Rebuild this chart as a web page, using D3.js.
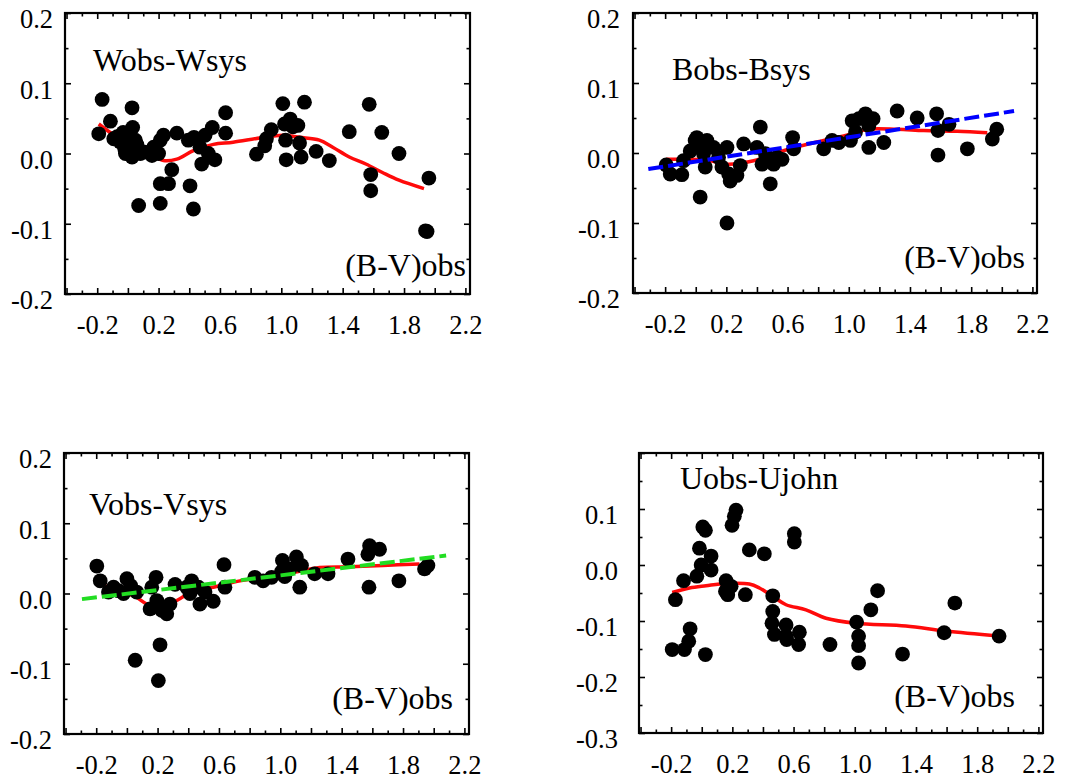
<!DOCTYPE html>
<html>
<head>
<meta charset="utf-8">
<script src="https://cdn.jsdelivr.net/npm/d3@7"></script>
<style>
  html, body { margin: 0; padding: 0; background: #fff; }
  svg { display: block; }
  text { font-family: "Liberation Serif", "Times New Roman", Times, serif; fill: #000; }
</style>
</head>
<body>
<svg id="chart" width="1082" height="781"></svg>
<script>
// Shared x-axis tick labels, (B-V)obs
const bvTickLabels = [-0.2, 0.2, 0.6, 1.0, 1.4, 1.8, 2.2];

// W: Wobs - Wsys residuals and smoothed trend
const wX = [-0.19, -0.168, -0.114, -0.092, -0.049, -0.031, -0.016, 0.005, 0.027, 0.031, 0.027, 0.049, 0.07, 0.081,
  -0.07, 0.0, 0.06, -0.02, 0.11,
  0.157, 0.168, 0.2, 0.211, 0.232, 0.211, 0.265, 0.286, 0.211, 0.319, 0.394, 0.405, 0.427, 0.431, 0.47, 0.481,
  0.503, 0.524, 0.55, 0.567, 0.637, 0.637, 0.838, 0.892, 0.903, 0.935, 1.01, 1.021, 1.028, 1.032, 1.058, 1.075,
  1.108, 1.119, 1.129, 1.151, 1.227, 1.313, 1.443, 1.573, 1.583, 1.583, 1.655, 1.767, 1.962, 1.94, 1.95];
const wY = [0.028, 0.077, 0.046, 0.021, 0.016, 0.030, 0.0, 0.009, 0.065, 0.037, -0.005, 0.019, -0.074, 0.0,
  0.024, 0.026, 0.012, 0.006, 0.002,
  -0.003, 0.009, 0.0, 0.019, 0.026, -0.043, -0.043, -0.023, -0.071, 0.029, 0.019, -0.046, -0.079, 0.023, 0.009, -0.015,
  0.026, 0.0, 0.037, -0.009, 0.058, 0.029, -0.001, 0.011, 0.021, 0.034, 0.071, 0.042, 0.019, -0.009, 0.049, 0.038,
  0.04, 0.015, -0.005, 0.073, 0.003, -0.01, 0.031, 0.07, -0.03, -0.053, 0.03, 0.0, -0.035, -0.11, -0.111];
const wTrendX = [-0.19, -0.09, 0.04, 0.146, 0.232, 0.319, 0.427, 0.557, 0.686, 0.859, 1.01, 1.119, 1.248, 1.335, 1.443, 1.551, 1.659, 1.767, 1.93];
const wTrendY = [0.042, 0.026, 0.009, -0.001, -0.01, -0.008, 0.004, 0.013, 0.016, 0.022, 0.026, 0.023, 0.019, 0.009, -0.005, -0.015, -0.027, -0.038, -0.05];

// B: Bobs - Bsys residuals, smoothed trend and linear fit
const bX = [-0.193, -0.167, -0.091, -0.08, -0.036, -0.004, 0.007, 0.029, 0.051, 0.062, 0.073, 0.029, 0.116, 0.149,
  0.171, 0.204, 0.215, 0.225, 0.269, 0.291, 0.204, 0.313, 0.40, 0.422, 0.433, 0.455, 0.487, 0.509, 0.531, 0.564,
  0.633, 0.64, 0.836, 0.891, 0.935, 1.011, 1.022, 1.044, 1.066, 1.109, 1.131, 1.131, 1.159, 1.229, 1.316, 1.447,
  1.574, 1.583, 1.583, 1.655, 1.775, 1.938, 1.967];
const bY = [-0.017, -0.030, -0.031, -0.011, 0.003, 0.018, 0.022, 0.013, -0.001, -0.020, 0.018, -0.063, 0.008, -0.006,
  -0.02, 0.008, -0.03, -0.040, -0.032, -0.018, -0.100, 0.013, 0.008, 0.037, -0.016, -0.001, -0.044, -0.016, -0.006, -0.009,
  0.022, 0.006, 0.006, 0.018, 0.015, 0.018, 0.046, 0.03, 0.049, 0.056, 0.039, 0.008, 0.049, 0.015, 0.060, 0.05,
  0.056, 0.032, -0.003, 0.041, 0.006, 0.02, 0.034];
const bTrendX = [-0.193, -0.1, 0.073, 0.204, 0.378, 0.509, 0.684, 0.836, 1.011, 1.12, 1.316, 1.491, 1.709, 1.905];
const bTrendY = [-0.009, -0.009, -0.01, -0.016, -0.011, -0.001, 0.01, 0.018, 0.027, 0.034, 0.034, 0.032, 0.031, 0.029];
const bFitX = [-0.31, 2.08];
const bFitY = [-0.023, 0.060];

// V: Vobs - Vsys residuals, smoothed trend and linear fit
const vX = [-0.196, -0.174, -0.12, -0.087, -0.055, -0.022, 0.0, 0.025, 0.054, 0.064, 0.151, 0.162, 0.19, 0.195,
  0.216, 0.205, 0.227, 0.26, 0.281, 0.314, 0.39, 0.411, 0.422, 0.466, 0.476, 0.509, 0.563, 0.633, 0.639, 0.834,
  0.888, 0.943, 1.008, 1.014, 1.029, 1.062, 1.105, 1.127, 1.138, 1.224, 1.311, 1.441, 1.571, 1.582, 1.578, 1.647,
  1.773, 1.94, 1.962];
const vY = [0.039, 0.018, 0.002, 0.009, 0.004, 0.0, 0.021, 0.011, -0.095, 0.002, -0.022, 0.009, 0.023, -0.01,
  -0.073, -0.124, -0.024, -0.029, -0.015, 0.013, 0.009, 0.0, 0.018, 0.009, -0.015, 0.002, -0.011, 0.041, 0.009, 0.023,
  0.018, 0.023, 0.031, 0.047, 0.024, 0.035, 0.052, 0.009, 0.04, 0.028, 0.028, 0.049, 0.056, 0.068, 0.009, 0.063,
  0.018, 0.035, 0.04];
const vTrendX = [-0.174, -0.109, 0.043, 0.13, 0.216, 0.325, 0.433, 0.563, 0.737, 0.91, 1.083, 1.257, 1.452, 1.669, 1.907];
const vTrendY = [0.023, 0.004, -0.003, -0.015, -0.019, -0.01, 0.004, 0.009, 0.018, 0.024, 0.03, 0.037, 0.038, 0.04, 0.042];
const vFitX = [-0.293, 2.081];
const vFitY = [-0.008, 0.054];

// U: Uobs - Ujohn residuals and smoothed trend
const uX = [-0.193, -0.172, -0.119, -0.113, -0.085, -0.076, -0.032, -0.015, -0.004, 0.007, 0.024, 0.024, 0.061, 0.061,
  0.159, 0.155, 0.17, 0.192, 0.198, 0.213, 0.224, 0.285, 0.311, 0.409, 0.464, 0.464, 0.459, 0.475, 0.551, 0.551,
  0.555, 0.605, 0.605, 0.638, 0.633, 0.838, 1.012, 1.025, 1.025, 1.025, 1.105, 1.149, 1.312, 1.584, 1.654, 1.943];
const uY = [-0.151, -0.062, -0.028, -0.151, -0.136, -0.114, -0.020, 0.030, 0.0, 0.068, 0.062, -0.160, 0.016, -0.009,
  -0.028, -0.047, -0.053, -0.038, 0.071, 0.087, 0.098, -0.053, 0.027, 0.020, -0.055, -0.083, -0.104, -0.124, -0.107, -0.127,
  -0.133, 0.056, 0.041, -0.12, -0.142, -0.142, -0.102, -0.127, -0.144, -0.175, -0.080, -0.046, -0.159, -0.121, -0.068, -0.127];
const uTrendX = [-0.193, -0.08, 0.028, 0.159, 0.311, 0.377, 0.464, 0.551, 0.681, 0.812, 1.008, 1.334, 1.595, 1.943];
const uTrendY = [-0.049, -0.041, -0.037, -0.033, -0.034, -0.041, -0.056, -0.071, -0.08, -0.095, -0.104, -0.109, -0.118, -0.127];

const panels = [
  { title: "Wobs-Wsys", x: wX, y: wY, tx: wTrendX, ty: wTrendY,
    box: { l: 65, t: 13, r: 470, b: 294 }, yDomain: [-0.2, 0.2], yLabels: [-0.2, -0.1, 0.0, 0.1, 0.2], labelGap: 12,
    titleAt: [93, 71], xNameAt: [466, 276] },
  { title: "Bobs-Bsys", x: bX, y: bY, tx: bTrendX, ty: bTrendY, fx: bFitX, fy: bFitY, fitColor: "#0000ff",
    box: { l: 633, t: 13, r: 1037, b: 293 }, yDomain: [-0.2, 0.2], yLabels: [-0.2, -0.1, 0.0, 0.1, 0.2], labelGap: 13,
    titleAt: [672, 80], xNameAt: [1025, 268] },
  { title: "Vobs-Vsys", x: vX, y: vY, tx: vTrendX, ty: vTrendY, fx: vFitX, fy: vFitY, fitColor: "#22dd22",
    box: { l: 64, t: 453, r: 469, b: 734 }, yDomain: [-0.2, 0.2], yLabels: [-0.2, -0.1, 0.0, 0.1, 0.2], labelGap: 12,
    titleAt: [89, 515], xNameAt: [453, 709] },
  { title: "Uobs-Ujohn", x: uX, y: uY, tx: uTrendX, ty: uTrendY,
    box: { l: 639, t: 453, r: 1043, b: 733 }, yDomain: [-0.3, 0.2], yLabels: [-0.3, -0.2, -0.1, 0.0, 0.1], labelGap: 21,
    titleAt: [680, 489], xNameAt: [1015, 707] }
];

const svg = d3.select("#chart");
const fmt = v => v.toFixed(1);
const xDomain = [-0.41, 2.23];
const tickFont = "26.5px";
const nameFont = "32px";

// tick positions: x majors every 0.2, minors between; y majors every 0.1, minors between
const xMajor = d3.range(-4, 23, 2).map(i => i / 10);
const xMinor = d3.range(-3, 23, 2).map(i => i / 10);

panels.forEach(p => {
  const { l, t, r, b } = p.box;
  const w = r - l, h = b - t;
  const g = svg.append("g").attr("transform", `translate(${l},${t})`);
  const x = d3.scaleLinear().domain(xDomain).range([0, w]);
  const y = d3.scaleLinear().domain(p.yDomain).range([h, 0]);

  const yLo = Math.round(p.yDomain[0] * 10), yHi = Math.round(p.yDomain[1] * 10);
  const yMajor = d3.range(yLo, yHi + 1).map(i => i / 10);
  const yMinor = d3.range(yLo, yHi).map(i => i / 10 + 0.05);

  // inward tick marks on all four sides
  const tickSets = [
    [d3.axisBottom(x), `translate(0,${h})`, xMajor, xMinor],
    [d3.axisTop(x), null, xMajor, xMinor],
    [d3.axisLeft(y), null, yMajor, yMinor],
    [d3.axisRight(y), `translate(${w},0)`, yMajor, yMinor]
  ];
  tickSets.forEach(([ax, tr, maj, min]) => {
    [[maj, 6], [min, 3.5]].forEach(([vals, len]) => {
      const a = g.append("g").attr("class", "ticks")
        .call(ax.tickValues(vals).tickSize(-len).tickFormat(""));
      if (tr) a.attr("transform", tr);
      a.select(".domain").remove();
      a.selectAll("line").attr("stroke", "#000").attr("stroke-width", 1.6);
    });
  });

  // bottom tick labels
  const xl = g.append("g").attr("transform", `translate(0,${h})`)
    .call(d3.axisBottom(x).tickValues(bvTickLabels).tickSize(0).tickFormat(fmt));
  xl.select(".domain").remove();
  xl.selectAll("text").attr("y", 40).attr("dy", 0)
    .style("font-size", tickFont).style("font-family", "'Liberation Serif', serif").attr("fill", "#000");

  // left tick labels
  const yl = g.append("g")
    .call(d3.axisLeft(y).tickValues(p.yLabels).tickSize(0).tickPadding(p.labelGap).tickFormat(fmt));
  yl.select(".domain").remove();
  yl.selectAll("text").attr("dy", "0.56em")
    .style("font-size", tickFont).style("font-family", "'Liberation Serif', serif").attr("fill", "#000");

  // frame
  g.append("rect").attr("width", w).attr("height", h)
    .attr("fill", "none").attr("stroke", "#000").attr("stroke-width", 2.2);

  const pts = p.x.map((v, i) => [v, p.y[i]]);
  const trend = p.tx.map((v, i) => [v, p.ty[i]]);
  const line = d3.line().x(d => x(d[0])).y(d => y(d[1]));

  // smoothed trend (red)
  g.append("path").datum(trend)
    .attr("d", line.curve(d3.curveCatmullRom.alpha(0.5)))
    .attr("fill", "none").attr("stroke", "#ff0a0a").attr("stroke-width", 3.5);

  // observed points
  g.append("g").selectAll("circle").data(pts).join("circle")
    .attr("cx", d => x(d[0])).attr("cy", d => y(d[1])).attr("r", 7.4).attr("fill", "#000");

  // linear fit (dashed)
  if (p.fx) {
    const fit = p.fx.map((v, i) => [v, p.fy[i]]);
    g.append("path").datum(fit)
      .attr("d", d3.line().x(d => x(d[0])).y(d => y(d[1])))
      .attr("fill", "none").attr("stroke", p.fitColor).attr("stroke-width", 4)
      .attr("stroke-dasharray", "15,5");
  }

  // panel labels
  svg.append("text").attr("x", p.titleAt[0]).attr("y", p.titleAt[1])
    .style("font-size", nameFont).text(p.title);
  svg.append("text").attr("x", p.xNameAt[0]).attr("y", p.xNameAt[1])
    .attr("text-anchor", "end").style("font-size", nameFont).text("(B-V)obs");
});
</script>
</body>
</html>
